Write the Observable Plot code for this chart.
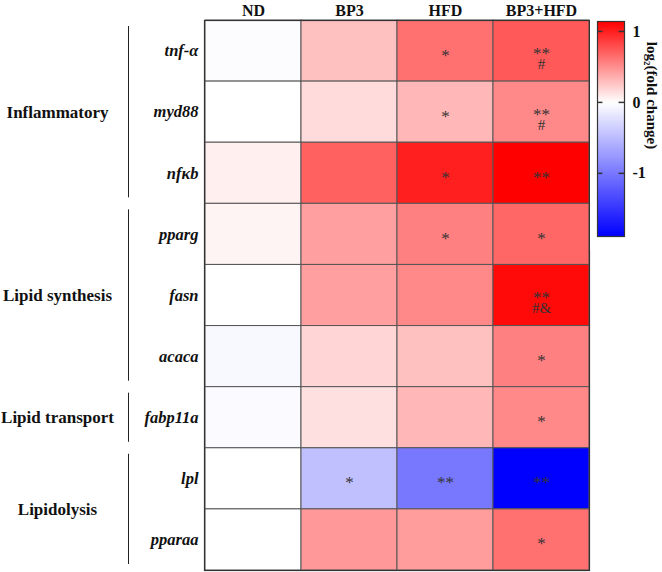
<!DOCTYPE html>
<html>
<head>
<meta charset="utf-8">
<script src="https://cdn.jsdelivr.net/npm/d3@7"></script>
<script src="https://cdn.jsdelivr.net/npm/@observablehq/plot@0.6"></script>
<style>
  body { margin: 0; background: #fff; }
  #wrap { position: relative; width: 662px; height: 572px; font-family: "Liberation Serif", serif; }
  #legend { position: absolute; left: 590px; top: 0; }
</style>
</head>
<body>
<div id="wrap"><div id="main"></div><div id="legend"></div></div>
<script>
// ---- data ----
const genes = ["tnf-α", "myd88", "nfκb", "pparg", "fasn", "acaca", "fabp11a", "lpl", "pparaa"];
const columns = ["ND", "BP3", "HFD", "BP3+HFD"];
const valuesND     = [-0.02, 0.00, 0.07, 0.05, 0.00, -0.05, -0.03, 0.00, 0.00];
const valuesBP3    = [0.28, 0.16, 0.71, 0.43, 0.43, 0.19, 0.14, -0.47, 0.46];
const valuesHFD    = [0.64, 0.32, 1.00, 0.57, 0.53, 0.28, 0.32, -1.00, 0.44];
const valuesBP3HFD = [0.74, 0.53, 1.14, 0.68, 1.10, 0.57, 0.53, -1.89, 0.64];

const annotGene  = ["tnf-α", "tnf-α", "myd88", "myd88", "nfκb", "nfκb", "pparg", "pparg", "fasn", "acaca", "fabp11a", "lpl", "lpl", "lpl", "pparaa"];
const annotCol   = ["HFD", "BP3+HFD", "HFD", "BP3+HFD", "HFD", "BP3+HFD", "HFD", "BP3+HFD", "BP3+HFD", "BP3+HFD", "BP3+HFD", "BP3", "HFD", "BP3+HFD", "BP3+HFD"];
const annotLine1 = ["*", "**", "*", "**", "*", "**", "*", "*", "**", "*", "*", "*", "**", "**", "*"];
const annotLine2 = ["", "#", "", "#", "", "", "", "", "#&", "", "", "", "", "", ""];

const groupNames = ["Inflammatory", "Lipid synthesis", "Lipid transport", "Lipidolysis"];
const groupStart = [0, 3, 6, 7];
const groupEnd   = [3, 6, 7, 9];

const legendTicks = [-1, 0, 1];
const legendTitle = "log₂(fold change)";
const colorMin = -1.89, colorMax = 1.14;

// ---- tables ----
const colValues = [valuesND, valuesBP3, valuesHFD, valuesBP3HFD];
const cells = [];
columns.forEach((c, j) => genes.forEach((g, i) => cells.push({col: c, gene: g, i, value: colValues[j][i]})));
const annots = annotGene.map((g, k) => ({gene: g, i: genes.indexOf(g), col: annotCol[k], line1: annotLine1[k], line2: annotLine2[k]}));
const singles = annots.filter(d => !d.line2);
const doubles = annots.filter(d => d.line2);
const groups = groupNames.map((n, k) => ({name: n, start: groupStart[k], end: groupEnd[k]}));

const colorOpts = {type: "linear", domain: [colorMin, 0, colorMax], range: ["#0000ff", "#ffffff", "#ff0000"], interpolate: "rgb"};
const font = "Liberation Serif";
const annotStyle = {x: "col", y: d => d.i + 0.5, fontSize: 17, fill: "#333"};

const main = Plot.plot({
  width: 662, height: 572,
  marginLeft: 204, marginRight: 73, marginTop: 20, marginBottom: 2,
  x: {type: "band", domain: columns, padding: 0, axis: null},
  y: {domain: [0, genes.length], reverse: true, axis: null},
  color: colorOpts,
  style: {fontFamily: font, background: "white", color: "#111"},
  marks: [
    Plot.barY(cells, {x: "col", y1: "i", y2: d => d.i + 1, fill: "value", stroke: "#555", strokeWidth: 1}),
    Plot.frame({stroke: "#333", strokeWidth: 1.2}),
    Plot.axisX({anchor: "top", tickSize: 0, tickPadding: 5, fontSize: 16, fontWeight: "bold", label: null}),
    Plot.axisY({anchor: "left", ticks: genes.map((g, i) => i + 0.5), tickFormat: d => genes[Math.floor(d)],
      tickSize: 0, tickPadding: 6, fontSize: 16.5, fontWeight: "bold", fontStyle: "italic", label: null}),
    Plot.text(singles, {...annotStyle, text: "line1", dy: 4}),
    Plot.text(doubles, {...annotStyle, text: "line1", dy: 2}),
    Plot.text(doubles, {...annotStyle, text: "line2", dy: 13, fontSize: 15}),
    Plot.ruleX(groups, {x: null, y1: "start", y2: "end", dx: -268.5, insetTop: 6, insetBottom: 6, stroke: "#222", strokeWidth: 1}),
    Plot.text(groups, {frameAnchor: "left", y: d => (d.start + d.end) / 2, text: "name", dx: -147, dy: 0,
      textAnchor: "middle", fontSize: 17, fontWeight: "bold", fill: "#111"})
  ]
});
document.getElementById("main").append(main);

const legend = Plot.plot({
  width: 72, height: 250,
  marginTop: 21, marginBottom: 14, marginLeft: 7, marginRight: 38,
  x: {domain: [0, 1], axis: null},
  y: {domain: [colorMin, colorMax], axis: null},
  color: colorOpts,
  style: {fontFamily: font, background: "white", color: "#111"},
  marks: [
    Plot.raster({x1: 0, x2: 1, y1: colorMin, y2: colorMax, fill: (x, y) => y, width: 4, height: 400, imageRendering: "auto"}),
    Plot.frame({stroke: "#333", strokeWidth: 1.2}),
    Plot.ruleY(legendTicks, {x1: 0, x2: 0.2, stroke: "#333", strokeWidth: 1.5}),
    Plot.ruleY(legendTicks, {x1: 0.8, x2: 1, stroke: "#333", strokeWidth: 1.5}),
    Plot.text(legendTicks, {y: d => d, frameAnchor: "right", dx: 8, textAnchor: "start", text: d => String(d),
      fontSize: 16, fontWeight: "bold", fill: "#111"}),
    Plot.text([legendTitle], {frameAnchor: "top-right", text: d => d, rotate: 90, dx: 33, dy: 74,
      fontSize: 15, fontWeight: "bold", fill: "#111", textAnchor: "middle"})
  ]
});
document.getElementById("legend").append(legend);
</script>
</body>
</html>
